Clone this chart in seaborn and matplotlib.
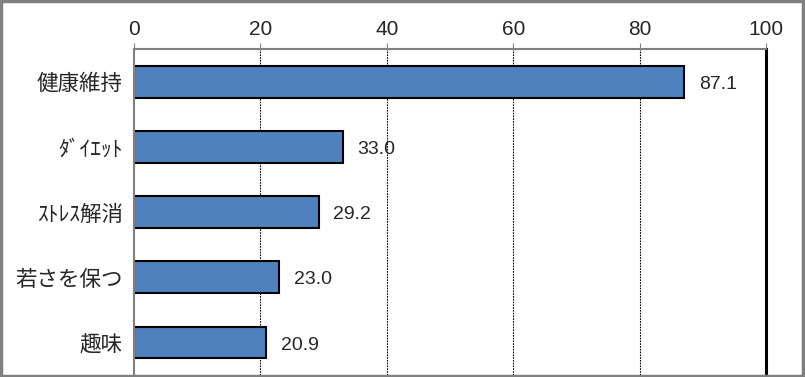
import numpy as np
import pandas as pd
import seaborn as sns
import matplotlib.pyplot as plt
from matplotlib.ticker import FixedLocator

categories = ["健康維持", "ﾀﾞｲｴｯﾄ", "ｽﾄﾚｽ解消", "若さを保つ", "趣味"]
values = [87.1, 33.0, 29.2, 23.0, 20.9]
xticks = [0, 20, 40, 60, 80, 100]

sns.set_style("white")
plt.rcParams['font.family'] = ['Noto Sans CJK JP', 'DejaVu Sans']

df = pd.DataFrame({"cat": categories, "val": values})

fig = plt.figure(figsize=(8.05, 3.77), dpi=100)
ax = fig.add_axes([0.1665, 0.005, 0.785, 0.865])

sns.barplot(data=df, x="val", y="cat", orient="h", color="#4F81BD",
            edgecolor="black", linewidth=1.5, width=0.49, saturation=1, ax=ax)

ax.set_xlim(0, 100)
ax.set_ylim(len(categories) - 0.5, -0.5)
ax.xaxis.tick_top()
ax.set_xticks(xticks)
ax.tick_params(axis="x", length=4, color="#808080", labelsize=15, pad=3)
ax.tick_params(axis="y", which="major", length=0, labelsize=15.5, pad=8)
ax.yaxis.set_minor_locator(FixedLocator(np.arange(0.5, len(categories) - 0.5, 1)))
ax.tick_params(axis="y", which="minor", length=6, color="#808080", width=1.2)
ax.set_xlabel("")
ax.set_ylabel("")

# dotted gridlines at 20..80
for x in xticks[1:-1]:
    ax.axvline(x, color="black", linestyle=(0, (1.5, 1)), linewidth=0.8, zorder=0)

for s in ["top", "left"]:
    ax.spines[s].set_color("#808080")
    ax.spines[s].set_linewidth(1.5)
ax.spines["bottom"].set_visible(False)
ax.spines["right"].set_color("black")
ax.spines["right"].set_linewidth(2.2)

for i, v in enumerate(values):
    ax.text(v + 2.3, i + 0.04, f"{v:.1f}", va="center", ha="left", fontsize=14,
            family=['Liberation Sans', 'DejaVu Sans'])
for lab in ax.get_xticklabels():
    lab.set_family(['Liberation Sans', 'DejaVu Sans'])

# grey frame round the whole chart
fig.patches.append(plt.Rectangle((0.001, 0.002), 0.997, 0.995, transform=fig.transFigure,
                                 fill=False, edgecolor="#808080", linewidth=2.5))

fig.savefig("out.png", dpi=100)
